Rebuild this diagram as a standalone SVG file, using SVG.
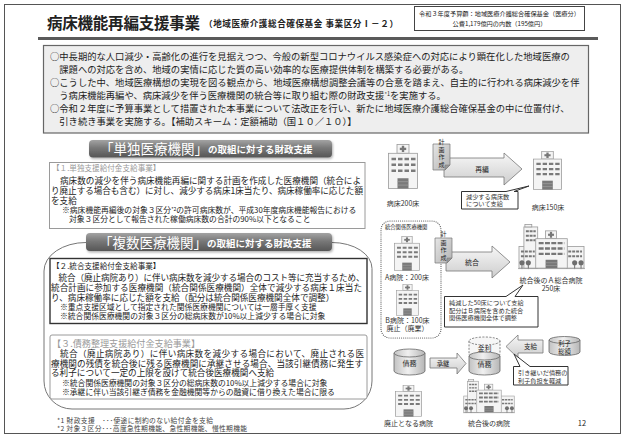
<svg xmlns="http://www.w3.org/2000/svg" width="625" height="437" viewBox="0 0 625 437">
<defs>
<style>
text{font-family:"Noto Sans CJK JP","Noto Sans",sans-serif;fill:#222}
.b{font-weight:bold}
.intro{font-size:9.3px}
.body{font-size:8.6px}
.note{font-size:7.8px}
.hd{font-size:7.6px}
.gray{fill:#9a9a9a}
.lbl{font-size:7px;fill:#333;text-anchor:middle}
.sm{font-size:6.2px;fill:#333}
.mid{text-anchor:middle}
.tabbig{font-size:13.5px;fill:#fff}
.tabsm{font-size:9.5px;fill:#fff;font-weight:bold}
.tab{fill:url(#gTab);filter:url(#shadow)}
.box{fill:#fff;stroke:#9a9a9a;stroke-width:1}
.arrow{fill:url(#gArrow);stroke:#777;stroke-width:0.8}
.cyl{fill:url(#gCyl);stroke:#666;stroke-width:0.8}
.bubble{fill:#fff;stroke:#333;stroke-width:1}
.memo{fill:url(#gMemo);stroke:#777;stroke-width:0.7}
.memotxt{font-size:6px;fill:#222;text-anchor:middle}
.hw{fill:#f4f4f4;stroke:#999;stroke-width:0.8}
.win{fill:#7a7a7a}
.foot{font-size:6.8px;fill:#444}
</style>
<linearGradient id="gTab" x1="0" y1="0" x2="0" y2="1">
 <stop offset="0" stop-color="#a3a3a3"/>
 <stop offset="0.45" stop-color="#787878"/>
 <stop offset="1" stop-color="#565656"/>
</linearGradient>
<linearGradient id="gArrow" x1="0" y1="0" x2="0" y2="1">
 <stop offset="0" stop-color="#f7f7f7"/>
 <stop offset="1" stop-color="#cdcdcd"/>
</linearGradient>
<linearGradient id="gCyl" x1="0" y1="0" x2="1" y2="0">
 <stop offset="0" stop-color="#c2c2c2"/>
 <stop offset="0.45" stop-color="#f0f0f0"/>
 <stop offset="1" stop-color="#b6b6b6"/>
</linearGradient>
<linearGradient id="gMemo" x1="0" y1="0" x2="1" y2="1">
 <stop offset="0" stop-color="#e6e6e6"/>
 <stop offset="1" stop-color="#b3b3b3"/>
</linearGradient>
<filter id="shadow" x="-10%" y="-20%" width="130%" height="170%">
 <feDropShadow dx="1" dy="1.5" stdDeviation="1" flood-color="#000" flood-opacity="0.3"/>
</filter>
<!-- small hospital building -->
<symbol id="hosp" viewBox="0 0 30 46" preserveAspectRatio="none">
 <rect class="hw" x="9" y="0.5" width="12" height="9"/>
 <rect x="13.8" y="1.8" width="2.4" height="6.4" fill="#777"/>
 <rect x="11.8" y="3.8" width="6.4" height="2.4" fill="#777"/>
 <rect class="hw" x="0.5" y="9.5" width="29" height="36"/>
 <path class="win" d="M3.5 14h4.5v2.6h-4.5zM10 14h4.5v2.6h-4.5zM16.5 14h4.5v2.6h-4.5zM23 14h4.5v2.6h-4.5zM3.5 20h4.5v2.6h-4.5zM10 20h4.5v2.6h-4.5zM16.5 20h4.5v2.6h-4.5zM23 20h4.5v2.6h-4.5zM3.5 26h4.5v2.6h-4.5zM10 26h4.5v2.6h-4.5zM16.5 26h4.5v2.6h-4.5zM23 26h4.5v2.6h-4.5z"/>
 <rect x="9.5" y="35" width="11" height="10.5" fill="#7a7a7a"/>
 <path d="M9.5 38.5h11M9.5 42h11" stroke="#aaa" stroke-width="0.6"/>
</symbol>
<!-- large general hospital -->
<symbol id="bigHosp" viewBox="0 0 68 50" preserveAspectRatio="none">
 <rect class="hw" x="1" y="23" width="18" height="22"/>
 <rect class="hw" x="49" y="23" width="18" height="22"/>
 <rect class="hw" x="6" y="3" width="14" height="42"/>
 <rect class="hw" x="7" y="0.5" width="7" height="2.5"/>
 <path d="M8 7.5h10M8 12h10M8 16.5h10" stroke="#777" stroke-width="2" stroke-dasharray="3 0.8"/>
 <rect class="hw" x="28" y="7" width="11" height="8"/>
 <rect x="32.4" y="8" width="2.2" height="6" fill="#777"/>
 <rect x="30.5" y="9.9" width="6" height="2.2" fill="#777"/>
 <rect class="hw" x="18" y="15" width="32" height="30"/>
 <path d="M21 19.5h26M21 25h26M21 30.5h26" stroke="#777" stroke-width="2.4" stroke-dasharray="5 1.4"/>
 <path d="M3 28h14M3 33h14M51 28h14M51 33h14" stroke="#777" stroke-width="2" stroke-dasharray="3 1"/>
 <rect x="28" y="36.5" width="12" height="8.5" fill="#777"/>
 <path d="M28 39.5h12M28 42.3h12" stroke="#aaa" stroke-width="0.5"/>
 <g fill="#6e6e6e">
  <circle cx="4" cy="39.5" r="2.6"/><circle cx="10.5" cy="39.5" r="2.6"/>
  <circle cx="57.5" cy="39.5" r="2.6"/><circle cx="64" cy="39.5" r="2.6"/>
 </g>
 <path d="M4 41v5M10.5 41v5M57.5 41v5M64 41v5" stroke="#6e6e6e" stroke-width="1"/>
 <path d="M0 45.5h68" stroke="#999" stroke-width="0.8"/>
</symbol>
</defs>

<rect width="625" height="437" fill="#fff"/>
<!-- slide frame -->
<rect x="4.5" y="4.5" width="616" height="429" fill="none" stroke="#555" stroke-width="1"/>

<!-- heading -->
<g id="title">
 <text x="47" y="29.2" class="b" font-size="15.5" textLength="153">病床機能再編支援事業</text>
 <text x="204" y="27" class="b" font-size="8.6" textLength="194">（地域医療介護総合確保基金 事業区分Ⅰ－２）</text>
 <rect x="414.5" y="6.5" width="170" height="24" fill="#fff" stroke="#444" stroke-width="1"/>
 <text x="499.5" y="16.4" class="mid" font-size="6.2">令和３年度予算額：地域医療介護総合確保基金（医療分）</text>
 <text x="499.5" y="25.7" class="mid" font-size="6.2">公費1,179億円の内数（195億円）</text>
 <rect x="38" y="37" width="560" height="3" fill="#5a5a5a"/>
</g>

<!-- overview -->
<g id="overview">
 <rect x="43.5" y="45.5" width="545" height="87.5" fill="#eeeeee" stroke="#666" stroke-width="1.2"/>
 <text class="intro" x="50" y="60">○中長期的な人口減少・高齢化の進行を見据えつつ、今般の新型コロナウイルス感染症への対応により顕在化した地域医療の</text>
 <text class="intro" x="59.3" y="73">課題への対応を含め、地域の実情に応じた質の高い効率的な医療提供体制を構築する必要がある。</text>
 <text class="intro" x="50" y="86">○こうした中、地域医療構想の実現を図る観点から、地域医療構想調整会議等の合意を踏まえ、自主的に行われる病床減少を伴</text>
 <text class="intro" x="59.3" y="99">う病床機能再編や、病床減少を伴う医療機関の統合等に取り組む際の財政支援<tspan font-size="5.5" dy="-3">*1</tspan><tspan dy="3">を実施する。</tspan></text>
 <text class="intro" x="50" y="112">○令和２年度に予算事業として措置された本事業について法改正を行い、新たに地域医療介護総合確保基金の中に位置付け、</text>
 <text class="intro" x="59.3" y="125">引き続き事業を実施する。【補助スキーム：定額補助（国１０／１０）】</text>
</g>

<!-- single institution support -->
<g id="single">
 <rect class="tab" x="89" y="140" width="243" height="17.5" rx="4"/>
 <text class="tabbig" x="100" y="154">「単独医療機関」</text>
 <text class="tabsm" x="208" y="153">の取組に対する財政支援</text>
 <rect class="box" x="49.5" y="162.5" width="315.5" height="66"/>
 <text class="hd gray" x="52" y="171">【１.単独支援給付金支給事業】</text>
 <text class="body" x="60" y="184.3" textLength="301">病床数の減少を伴う病床機能再編に関する計画を作成した医療機関（統合によ</text>
 <text class="body" x="51" y="194.3" textLength="312">り廃止する場合も含む）に対し、減少する病床1床当たり、病床稼働率に応じた額</text>
 <text class="body" x="51" y="204.3">を支給</text>
 <text class="note" x="62" y="213">※病床機能再編後の対象３区分<tspan font-size="5" dy="-2.5">*2</tspan><tspan dy="2.5">の許可病床数が、平成30年度病床機能報告における</tspan></text>
 <text class="note" x="69" y="222">対象３区分として報告された稼働病床数の合計の90%以下となること</text>
</g>

<!-- multiple institutions support -->
<g id="multiple">
 <path d="M86 242.5H332A40 26 0 0 1 372 268.5V381A28 28 0 0 1 344 409H72A28 28 0 0 1 44 381V271A42 28.5 0 0 1 86 242.5Z" fill="none" stroke="#777" stroke-width="1"/>
 <rect class="tab" x="86" y="233" width="246" height="18" rx="4"/>
 <text class="tabbig" x="99" y="247.5">「複数医療機関」</text>
 <text class="tabsm" x="207" y="246.5">の取組に対する財政支援</text>

 <rect x="50" y="258.5" width="317" height="65" fill="#fff" stroke="#333" stroke-width="1.4"/>
 <text class="hd" x="52" y="269.4" fill="#333">【２.統合支援給付金支給事業】</text>
 <text class="body" x="58.5" y="281.3" textLength="306">統合（廃止病院あり）に伴い病床数を減少する場合のコスト等に充当するため、</text>
 <text class="body" x="51" y="291.3" textLength="311">統合計画に参加する医療機関（統合関係医療機関）全体で減少する病床１床当た</text>
 <text class="body" x="51" y="300.8">り、病床稼働率に応じた額を支給（配分は統合関係医療機関全体で調整）</text>
 <text class="note" x="60" y="310">※重点支援区域として指定された関係医療機関については一層手厚く支援</text>
 <text class="note" x="60" y="319">※統合関係医療機関の対象３区分の総病床数が10%以上減少する場合に対象</text>

 <rect class="box" x="50" y="335" width="317" height="64" rx="2"/>
 <text class="gray" x="52" y="346.8" font-size="9.1">【３.債務整理支援給付金支給事業】</text>
 <text class="body" x="60" y="357" textLength="304">統合（廃止病院あり）に伴い病床数を減少する場合において、廃止される医</text>
 <text class="body" x="51" y="366.8" textLength="312">療機関の残債を統合後に残る医療機関に承継させる場合、当該引継債務に発生す</text>
 <text class="body" x="51" y="376.3">る利子について一定の上限を設けて統合後医療機関へ支給</text>
 <text class="note" x="62" y="385.5">※統合関係医療機関の対象３区分の総病床数の10%以上減少する場合に対象</text>
 <text class="note" x="62" y="394.8">※承継に伴い当該引継ぎ債務を金融機関等からの融資に借り換えた場合に限る</text>
</g>

<!-- footnotes -->
<g id="footnotes">
 <text class="foot" x="57" y="422.5" textLength="156">*1 財政支援　･･･使途に制約のない給付金を支給</text>
 <text class="foot" x="57" y="430.5" textLength="190">*2 対象３区分･･･高度急性期機能、急性期機能、慢性期機能</text>
 <text x="582" y="425.5" font-size="7.5" fill="#888" class="mid">12</text>
</g>

<!-- reorganisation of a single hospital -->
<g id="reorg">
 <use href="#hosp" x="388" y="144" width="30" height="45"/>
 <text class="lbl" x="403" y="205.7">病床200床</text>
 <polygon class="arrow" points="444,158 504,158 504,153 522,169 504,185 504,177 444,177"/>
 <text class="mid" x="482" y="171.5" font-size="6.8">再編</text>
 <path class="memo" d="M433 144H450V165L445 170H433Z"/>
 <path d="M450 165H445V170Z" fill="#999" stroke="#777" stroke-width="0.5"/>
 <text class="memotxt" x="441.5" y="143.5">計</text>
 <text class="memotxt" x="441.5" y="151.5">画</text>
 <text class="memotxt" x="441.5" y="159">作</text>
 <text class="memotxt" x="441.5" y="166.5">成</text>
 <path class="bubble" d="M461.5 191.5H506L529 186L514 191.5H518V209H461.5Z"/>
 <text class="sm" x="466" y="198.8">減少する病床数</text>
 <text class="sm" x="466" y="206.2">について支給</text>
 <use href="#hosp" x="533" y="151" width="29" height="39"/>
 <text class="lbl" x="548" y="209.7">病床150床</text>
</g>

<!-- merger of hospitals -->
<g id="merger">
 <rect x="381" y="221" width="60" height="117" rx="9" fill="none" stroke="#555" stroke-width="1.1" stroke-dasharray="0.1 2" stroke-linecap="round"/>
 <text x="385" y="229" font-size="5.3" fill="#9a9a9a">統合関係医療機関</text>
 <use href="#hosp" x="394" y="236" width="26" height="35"/>
 <text class="lbl" x="407" y="279.7">A病院：200床</text>
 <use href="#hosp" x="396" y="284" width="23" height="32"/>
 <text class="lbl" x="407.5" y="322.7">B病院：100床</text>
 <text class="lbl" x="407.5" y="330.7">廃止（廃業）</text>
 <polygon class="arrow" points="446,252 492,252 492,246 510,262 492,278 492,271 446,271"/>
 <text class="mid" x="472" y="265" font-size="7">統合</text>
 <path class="memo" d="M435 238H452V258L447 263H435Z"/>
 <path d="M452 258H447V263Z" fill="#999" stroke="#777" stroke-width="0.5"/>
 <text class="memotxt" x="443.5" y="236">計</text>
 <text class="memotxt" x="443.5" y="244.5">画</text>
 <text class="memotxt" x="443.5" y="252">作</text>
 <text class="memotxt" x="443.5" y="259.5">成</text>
 <use href="#bigHosp" x="518" y="224" width="67" height="49"/>
 <text class="lbl" x="551" y="282.7">統合後のＡ総合病院</text>
 <text class="lbl" x="551" y="290.7">250床</text>
 <path class="bubble" d="M444.5 296.5H506L523 285L515 296.5H538V327H444.5Z"/>
 <text class="sm" x="449" y="305">純減した50床について支給</text>
 <text class="sm" x="449" y="312.5">配分はＢ病院を含めた統合</text>
 <text class="sm" x="449" y="320">関係医療機関全体で調整</text>
</g>

<!-- debt succession -->
<g id="debt">
 <path class="cyl" d="M394 353V371A15.5 4 0 0 0 425 371V353Z"/>
 <ellipse class="cyl" cx="409.5" cy="353" rx="15.5" ry="4"/>
 <text class="mid" x="409.5" y="366" font-size="7">債務</text>
 <polygon class="arrow" points="430,358 457,358 457,353 466,363.5 457,374 457,368 430,368"/>
 <text class="mid" x="443" y="365.5" font-size="6.3">承継</text>
 <path d="M469 341V354A15.5 4 0 0 0 500 354V341Z" fill="#f6f6f6" stroke="#666" stroke-width="0.8" stroke-dasharray="2 1.4"/>
 <ellipse cx="484.5" cy="341" rx="15.5" ry="4" fill="#f6f6f6" stroke="#666" stroke-width="0.8" stroke-dasharray="2 1.4"/>
 <text class="mid" x="484.5" y="351" font-size="7">金利</text>
 <path class="cyl" d="M469 356V371A15.5 4 0 0 0 500 371V356Z"/>
 <ellipse class="cyl" cx="484.5" cy="356" rx="15.5" ry="4"/>
 <text class="mid" x="484.5" y="367" font-size="7">債務</text>
 <polygon class="arrow" points="543,340 518,340 518,335 506,346.5 518,358 518,353 543,353"/>
 <text class="mid" x="530.5" y="349" font-size="6.5">支給</text>
 <path class="cyl" d="M549 340V352A15.5 3.5 0 0 0 580 352V340Z"/>
 <ellipse class="cyl" cx="564.5" cy="340" rx="15.5" ry="3.5"/>
 <text class="mid" x="564.5" y="345.5" font-size="6.3">利子</text>
 <text class="mid" x="564.5" y="353.5" font-size="6.3">総額</text>
 <path class="bubble" d="M513.5 366.5H520L514 354L530 366.5H568V385H513.5Z"/>
 <text class="sm" x="518" y="375">引き継いだ債務の</text>
 <text class="sm" x="518" y="382.5">利子負担を軽減</text>
 <use href="#hosp" x="395" y="385" width="27" height="32"/>
 <text class="lbl" x="408.5" y="425.7">廃止となる病院</text>
 <use href="#bigHosp" x="463" y="379" width="52" height="37"/>
 <text class="lbl" x="489" y="425.7">統合後の病院</text>
</g>
</svg>
